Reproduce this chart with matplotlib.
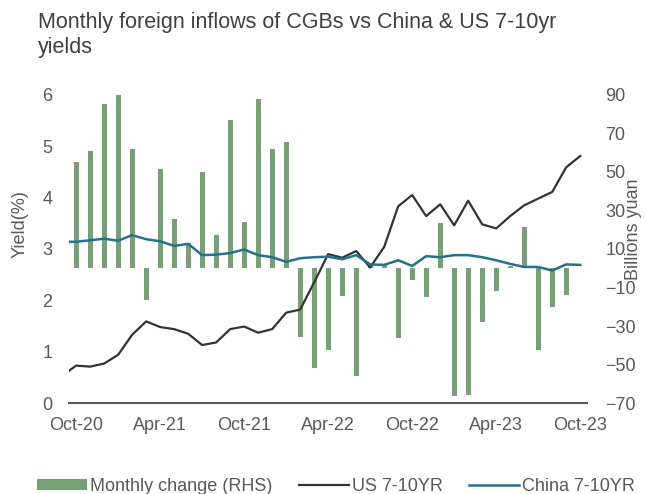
import numpy as np
import matplotlib.pyplot as plt

plt.rcParams['font.family'] = ['Liberation Sans', 'DejaVu Sans']

months = ['Oct-20', 'Apr-21', 'Oct-21', 'Apr-22', 'Oct-22', 'Apr-23', 'Oct-23']

# monthly change in foreign holdings of CGBs, billions yuan (Oct-20 .. Sep-23)
flows = [54.9, 61.0, 85.0, 90.2, 61.7, -16.7, 51.6, 25.6, 13.1, 49.9, 17.3, 77.1,
         23.9, 87.7, 61.9, 65.7, -35.6, -51.9, -42.2, -14.5, -56.1, 1.0, 1.5, -36.1,
         -6.0, -14.8, 23.4, -66.5, -65.8, -28.0, -12.0, 1.0, 21.6, -42.2, -20.2, -13.7]

# yields in %, first value is the starting point at the left edge, then Oct-20 .. Oct-23
us_yield = [0.63, 0.73, 0.71, 0.77, 0.94, 1.33, 1.59, 1.48, 1.44, 1.35, 1.13, 1.18, 1.44,
            1.49, 1.37, 1.44, 1.76, 1.82, 2.35, 2.90, 2.83, 2.96, 2.64, 3.04, 3.83,
            4.05, 3.64, 3.87, 3.46, 3.94, 3.48, 3.40, 3.64, 3.85, 3.98, 4.11, 4.59, 4.81]
china_yield = [3.14, 3.14, 3.17, 3.20, 3.16, 3.27, 3.19, 3.15, 3.06, 3.10, 2.88, 2.89, 2.92,
               2.99, 2.88, 2.84, 2.75, 2.82, 2.84, 2.85, 2.80, 2.88, 2.70, 2.69, 2.78,
               2.67, 2.86, 2.84, 2.88, 2.88, 2.84, 2.78, 2.71, 2.65, 2.65, 2.58, 2.70, 2.69]

text_col = '#595959'
green = '#76a175'
black = '#333333'
teal = '#1f7391'

fig = plt.figure(figsize=(6.46, 4.94), dpi=100)
ax = fig.add_axes([0.107, 0.184, 0.802, 0.624])
ax2 = ax.twinx()
ax.set_zorder(ax2.get_zorder() + 1)
ax.patch.set_visible(False)

x_bar = np.arange(len(flows))
x_line = np.concatenate([[-0.5], np.arange(len(us_yield) - 1)])

ax2.bar(x_bar, flows, width=0.36, color=green, label='Monthly change (RHS)')
ax.plot(x_line, us_yield, color=black, lw=1.6, label='US 7-10YR')
ax.plot(x_line, china_yield, color=teal, lw=1.8, label='China 7-10YR')

ax.set_xlim(-0.5, 36.5)
ax.set_ylim(0, 6)
ax2.set_ylim(-70, 90)
ax.set_yticks(range(0, 7))
ax2.set_yticks(range(-70, 91, 20))
ax.set_xticks(np.arange(0, 37, 6))
ax.set_xticklabels(months)

for a in (ax, ax2):
    for s in a.spines.values():
        s.set_visible(False)
ax.spines['bottom'].set_visible(True)
ax.spines['bottom'].set_color(text_col)
ax.spines['bottom'].set_linewidth(1.5)

ax.tick_params(axis='y', length=0, pad=12, labelsize=13, labelcolor=text_col)
ax.tick_params(axis='x', length=0, pad=10, labelsize=13, labelcolor=text_col)
ax2.tick_params(axis='y', length=0, pad=13, labelsize=13, labelcolor=text_col)

fig.text(0.031, 0.547, 'Yield(%)', rotation=90, ha='center', va='center',
         fontsize=13, color=text_col)
fig.text(0.981, 0.535, 'Billions yuan', rotation=90, ha='center', va='center',
         fontsize=13, color=text_col)

fig.text(0.059, 0.975, 'Monthly foreign inflows of CGBs vs China & US 7-10yr\nyields',
         ha='left', va='top', fontsize=15.5, color='#404040', linespacing=1.25)

h1, l1 = ax2.get_legend_handles_labels()
h2, l2 = ax.get_legend_handles_labels()
fig.legend(h1 + h2, l1 + l2, loc='center', bbox_to_anchor=(0.52, 0.015), ncol=3,
           frameon=False, fontsize=13, labelcolor=text_col, handlelength=2.8,
           handleheight=0.6, handletextpad=0.15, columnspacing=1.45)

fig.savefig('out.png', dpi=100)
